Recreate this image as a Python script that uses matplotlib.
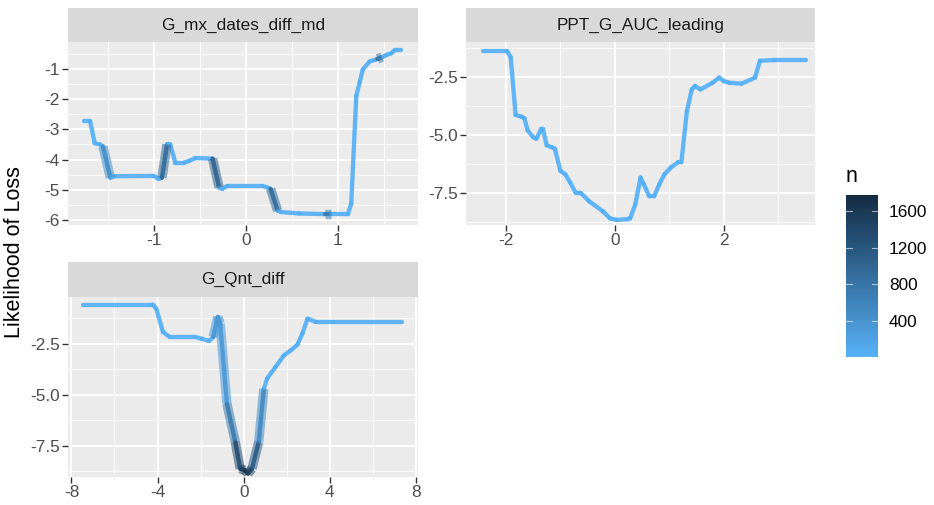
import matplotlib
matplotlib.use("Agg")
import matplotlib.pyplot as plt
import numpy as np
from matplotlib.collections import LineCollection
from matplotlib.colors import LinearSegmentedColormap, Normalize
from matplotlib.cm import ScalarMappable

plt.rcParams["font.family"] = ["Liberation Sans", "DejaVu Sans"]

# Panel 1: G_mx_dates_diff_md
x1 = [-1.755, -1.69, -1.64, -1.585, -1.55, -1.47, -1.42, -1.0, -0.945, -0.91,
      -0.855, -0.82, -0.765, -0.67, -0.62, -0.545, -0.36, -0.29, -0.255, -0.2,
      0.18, 0.235, 0.27, 0.345, 0.38, 0.58, 0.86, 0.92, 1.11, 1.145,
      1.2, 1.236, 1.27, 1.345, 1.4, 1.43, 1.48, 1.527, 1.58, 1.62, 1.69]
y1 = [-2.73, -2.73, -3.46, -3.5, -3.57, -4.6, -4.55, -4.54, -4.64, -4.6,
      -3.5, -3.5, -4.1, -4.1, -4.05, -3.95, -3.97, -4.92, -4.97, -4.87,
      -4.87, -4.92, -4.97, -5.68, -5.73, -5.78, -5.8, -5.8, -5.8, -5.45,
      -1.9, -1.46, -1.03, -0.76, -0.71, -0.68, -0.62, -0.55, -0.49, -0.38, -0.38]
n1 = [20, 20, 20, 20, 450, 30, 30, 30, 30, 900,
      30, 30, 30, 30, 30, 30, 1000, 30, 30, 30,
      30, 30, 900, 30, 30, 30, 700, 30, 30, 30,
      30, 30, 30, 30, 30, 800, 30, 30, 30, 30, 30]

# Panel 2: PPT_G_AUC_leading
x2 = [-2.41, -1.975, -1.91, -1.82, -1.72, -1.66, -1.6, -1.5, -1.44, -1.35,
      -1.32, -1.25, -1.16, -1.1, -1.0, -0.91, -0.82, -0.72, -0.63, -0.47,
      -0.22, -0.09, 0.03, 0.22, 0.28, 0.375, 0.47, 0.53, 0.63, 0.72,
      0.815, 0.91, 1.03, 1.16, 1.22, 1.32, 1.41, 1.47, 1.57, 1.79,
      1.91, 2.0, 2.1, 2.32, 2.57, 2.66, 2.92, 3.51]
y2 = [-1.39, -1.39, -1.65, -4.14, -4.21, -4.28, -4.8, -5.1, -5.17, -4.74,
      -4.74, -5.45, -5.53, -5.6, -6.55, -6.7, -7.05, -7.5, -7.5, -7.87,
      -8.3, -8.6, -8.67, -8.64, -8.6, -8.0, -6.84, -7.13, -7.65, -7.65,
      -7.13, -6.7, -6.4, -6.18, -6.18, -3.99, -3.04, -2.89, -3.04, -2.75,
      -2.53, -2.68, -2.75, -2.79, -2.53, -1.8, -1.77, -1.77]
n2 = [20, 20, 20, 20, 20, 20, 20, 20, 20, 20,
      20, 20, 20, 20, 20, 20, 20, 20, 20, 20,
      20, 20, 20, 20, 20, 20, 20, 20, 20, 20,
      20, 20, 20, 20, 20, 20, 20, 20, 20, 20,
      20, 20, 20, 20, 20, 20, 20, 20]

# Panel 3: G_Qnt_diff
x3 = [-7.45, -4.22, -4.06, -3.75, -3.44, -2.27, -1.95, -1.61, -1.41, -1.2,
      -1.09, -0.78, -0.39, -0.16, 0.05, 0.2, 0.39, 0.7, 0.94, 1.09,
      1.48, 1.875, 2.19, 2.5, 2.73, 2.97, 3.36, 4.14, 7.34]
y3 = [-0.59, -0.59, -0.79, -1.93, -2.17, -2.17, -2.26, -2.37, -2.17, -1.19,
      -1.52, -5.43, -7.3, -8.61, -8.69, -8.85, -8.61, -7.3, -4.71, -4.21,
      -3.64, -3.07, -2.83, -2.55, -2.0, -1.28, -1.44, -1.44, -1.44]
n3 = [20, 20, 20, 20, 20, 20, 20, 20, 350, 300,
      300, 700, 1300, 1500, 1650, 1400, 1100, 500, 30, 30,
      30, 30, 30, 30, 30, 30, 30, 30, 30]

titles = ["G_mx_dates_diff_md", "PPT_G_AUC_leading", "G_Qnt_diff"]

cmap = LinearSegmentedColormap.from_list("ggblue", ["#56B1F7", "#132B43"])
norm = Normalize(vmin=1, vmax=1775)

W, H = 934, 505
fig = plt.figure(figsize=(W / 100, H / 100), dpi=100)


def px_axes(left, top, right, bottom):
    return fig.add_axes([left / W, 1 - bottom / H, (right - left) / W, (bottom - top) / H])


def draw_panel(box, strip, x, y, n, title, xlim, ylim, xt, xtl, yt, ytl, xm, ym):
    ax = px_axes(*box)
    ax.set_facecolor("#EBEBEB")
    for s in ax.spines.values():
        s.set_visible(False)
    ax.set_xlim(*xlim)
    ax.set_ylim(*ylim)
    ax.set_xticks(xt)
    ax.set_xticklabels(xtl)
    ax.set_yticks(yt)
    ax.set_yticklabels(ytl)
    ax.set_xticks(xm, minor=True)
    ax.set_yticks(ym, minor=True)
    ax.grid(True, which="major", color="white", lw=1.3)
    ax.grid(True, which="minor", color="white", lw=0.6)
    ax.tick_params(which="major", length=4, width=1, color="#333333",
                   labelsize=12.4, labelcolor="#4D4D4D", pad=2)
    ax.tick_params(which="minor", length=0)
    ax.set_axisbelow(True)

    # segments coloured by n, thick translucent overlay where n is high
    pts = np.column_stack([x, y])
    segs = np.stack([pts[:-1], pts[1:]], axis=1)
    nseg = np.array(n[:-1], dtype=float)
    cols = cmap(norm(nseg))
    base = LineCollection(segs, colors=cols, linewidths=3.1, alpha=0.92,
                          capstyle="round", joinstyle="round")
    ax.add_collection(base)
    big = nseg > 200
    if big.any():
        over = LineCollection(segs[big], colors=cols[big], linewidths=6.8,
                              alpha=0.55, capstyle="butt")
        ax.add_collection(over)

    sax = px_axes(*strip)
    sax.set_facecolor("#D9D9D9")
    sax.set_xticks([])
    sax.set_yticks([])
    for s in sax.spines.values():
        s.set_visible(False)
    sax.text(0.5, 0.5, title, ha="center", va="center", fontsize=12.4,
             color="#1A1A1A", transform=sax.transAxes)
    return ax


draw_panel((68, 42, 418, 225), (68, 8, 418, 42), x1, y1, n1, titles[0],
           (-1.93, 1.87), (-6.16, -0.12),
           [-1, 0, 1], ["-1", "0", "1"],
           [-6, -5, -4, -3, -2, -1], ["-6", "-5", "-4", "-3", "-2", "-1"],
           [-1.5, -0.5, 0.5, 1.5], [-5.5, -4.5, -3.5, -2.5, -1.5, -0.5])

draw_panel((466, 42, 815, 225), (466, 8, 815, 42), x2, y2, n2, titles[1],
           (-2.73, 3.67), (-8.89, -0.99),
           [-2, 0, 2], ["-2", "0", "2"],
           [-7.5, -5.0, -2.5], ["-7.5", "-5.0", "-2.5"],
           [-1, 1, 3], [-8.75, -6.25, -3.75, -1.25])

draw_panel((68, 297, 418, 477), (68, 262, 418, 297), x3, y3, n3, titles[2],
           (-8.16, 8.1), (-9.02, -0.22),
           [-8, -4, 0, 4, 8], ["-8", "-4", "0", "4", "8"],
           [-7.5, -5.0, -2.5], ["-7.5", "-5.0", "-2.5"],
           [-6, -2, 2, 6], [-8.75, -6.25, -3.75, -1.25])

fig.text(15 / W, 1 - 252 / H, "Likelihood of Loss", rotation=90, ha="center",
         va="center", fontsize=15.5, color="black")

# colour bar
cax = px_axes(846, 195, 878, 357)
sm = ScalarMappable(norm=norm, cmap=cmap)
cb = fig.colorbar(sm, cax=cax)
cb.outline.set_visible(False)
cb.set_ticks([400, 800, 1200, 1600])
cax.tick_params(length=0, labelsize=12.4, labelcolor="black", pad=8)
for v in [400, 800, 1200, 1600]:
    cax.plot([0, 0.2], [v, v], color="white", lw=0.8, transform=cax.get_yaxis_transform(), alpha=0.6)
    cax.plot([0.8, 1], [v, v], color="white", lw=0.8, transform=cax.get_yaxis_transform(), alpha=0.6)
fig.text(846 / W, 1 - 176 / H, "n", ha="left", va="center", fontsize=15.5, color="black")

fig.savefig("out.png", dpi=100)
